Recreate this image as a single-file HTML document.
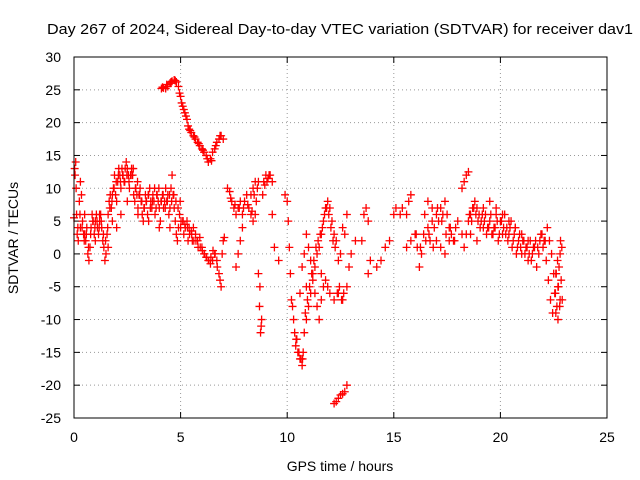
<!DOCTYPE html>
<html><head><meta charset="utf-8"><style>
html,body{margin:0;padding:0;background:#fff;}
svg{display:block;font-family:"Liberation Sans",sans-serif;}
</style></head><body>
<svg id="chart" width="640" height="480" viewBox="0 0 640 480">
<rect x="0" y="0" width="640" height="480" fill="#fff"/>
<text x="340" y="34" font-size="15" text-anchor="middle" textLength="586" lengthAdjust="spacingAndGlyphs">Day 267 of 2024, Sidereal Day-to-day VTEC variation (SDTVAR) for receiver dav1</text>
<text x="340" y="471" font-size="14" text-anchor="middle">GPS time / hours</text>
<text x="18" y="238" font-size="14" text-anchor="middle" transform="rotate(-90 18 238)">SDTVAR / TECUs</text>
<g id="grid"></g><g id="ticks"></g><g id="marks"></g>
<rect x="74" y="57" width="533" height="361" fill="none" stroke="#000" stroke-width="1"/>
</svg>
<script>
const xTicks=[0,5,10,15,20,25];
const yTicks=[30,25,20,15,10,5,0,-5,-10,-15,-20,-25];
const hours=[0,0.05,0.08,0.1,0.12,0.15,0.2,0.25,0.3,0.35,0.4,0.45,0.5,0.55,0.6,0.65,0.7,0.75,0.8,0.85,0.9,0.95,1.0,1.05,1.1,1.15,1.2,1.25,1.3,1.35,1.4,1.45,1.5,1.55,1.6,1.65,1.7,1.75,1.8,1.85,1.9,1.95,2.0,2.05,2.1,2.15,2.2,2.25,2.3,2.35,2.4,2.45,2.5,2.55,2.6,2.65,2.7,2.75,2.8,2.85,2.9,2.95,3.0,3.05,3.1,3.15,3.2,3.25,3.3,3.35,3.4,3.45,3.5,3.55,3.6,3.65,3.7,3.75,3.8,3.85,3.9,3.95,4.0,4.05,4.1,4.15,4.2,4.25,4.3,4.35,4.4,4.45,4.5,4.55,4.6,4.65,4.7,4.75,4.8,4.85,4.9,4.95,5.0,
0.3,0.5,1.0,1.2,1.6,1.8,2.0,2.2,2.5,3.0,3.5,4.0,4.5,
4.1,4.2,4.3,4.4,4.5,4.6,4.7,4.8,4.9,5.0,5.05,5.1,5.2,5.3,5.35,5.4,5.5,5.6,5.7,5.8,5.9,6.0,6.1,6.2,6.3,6.4,6.5,6.6,6.7,6.8,6.9,7.0,
5.1,5.2,5.3,5.4,5.5,5.6,5.7,5.8,5.9,6.0,6.1,6.2,6.3,6.4,6.5,6.6,6.7,6.8,6.85,6.9,6.95,7.0,7.05,5.15,5.35,5.55,
7.2,7.3,7.4,7.5,7.6,7.7,7.8,7.9,8.0,8.1,8.2,8.3,8.4,8.5,8.55,8.6,8.65,8.7,8.75,8.8,8.85,8.9,9.0,9.1,9.2,9.3,8.5,8.4,8.3,7.6,7.7,7.8,7.9,9.3,9.4,9.6,
9.9,10.0,10.05,10.1,10.15,10.2,10.3,10.35,10.4,10.45,10.5,10.6,10.7,10.75,10.8,10.9,11.0,11.1,11.2,11.3,11.4,11.5,11.6,11.7,11.8,11.9,12.0,12.1,12.2,12.3,12.4,12.5,12.6,12.7,12.8,10.6,10.7,10.8,10.9,11.0,11.1,11.2,11.4,11.5,11.6,11.7,11.8,11.9,12.0,12.2,12.4,12.6,12.8,11.6,11.3,10.9,
12.2,12.3,12.4,12.5,12.6,12.7,12.8,
12.9,13.0,13.2,13.5,13.6,13.7,13.8,13.8,13.9,14.2,14.4,14.6,14.8,15.0,15.1,15.3,15.4,15.6,15.7,15.8,15.6,15.8,16.0,16.1,16.2,16.3,16.4,16.5,16.6,16.7,16.8,16.9,17.0,17.1,17.2,17.3,17.4,17.5,17.6,17.7,17.8,17.9,18.0,18.2,18.3,18.4,16.6,16.8,17.0,17.2,17.4,17.6,
18.2,18.3,18.4,18.5,18.5,18.6,18.7,18.8,18.9,19.0,19.1,19.2,19.3,19.4,19.5,19.6,19.7,19.8,19.9,20.0,20.1,20.2,20.3,20.4,20.5,20.6,20.7,20.8,20.9,21.0,21.1,21.2,21.3,21.4,21.5,21.6,21.7,21.8,21.9,22.0,22.1,22.2,22.3,22.4,22.5,22.55,22.6,22.65,22.7,22.75,22.8,22.85,22.9,18.6,18.9,19.2,19.5,19.8,20.1,20.4,20.7,21.0,21.3,22.6,22.7,22.8,
0.03,0.18,0.28,0.38,0.48,0.58,0.68,0.78,0.88,0.98,1.08,1.18,1.28,1.38,1.48,1.58,1.68,1.78,1.88,1.98,2.08,2.18,2.28,2.38,2.48,2.58,2.68,2.78,2.88,2.98,3.08,3.18,3.28,3.38,3.48,3.58,3.68,3.78,3.88,3.98,4.08,4.18,4.28,4.38,4.48,4.58,4.68,4.78,4.88,4.98,
5.02,5.12,5.22,5.32,5.42,5.52,5.62,5.72,5.82,5.92,6.02,6.12,6.22,6.32,6.42,6.52,6.62,6.72,
4.15,4.35,4.55,4.75,4.95,5.15,5.25,5.45,5.65,5.85,6.05,6.25,6.45,6.65,6.85,
7.35,7.55,7.75,7.95,8.15,8.35,8.45,8.65,8.95,9.05,9.15,8.72,8.78,
10.25,10.42,10.55,10.65,10.72,10.85,10.95,11.05,11.15,11.25,11.35,11.45,11.55,11.65,11.75,11.85,11.95,12.05,12.15,12.25,12.35,12.45,12.55,12.65,
18.55,18.65,18.75,18.85,18.95,19.05,19.15,19.25,19.35,19.45,19.55,19.65,19.75,19.85,19.95,20.05,20.15,20.25,20.35,20.45,20.55,20.65,20.75,20.85,20.95,21.05,21.15,21.25,21.35,21.45,21.55,21.65,21.75,21.85,21.95,22.05,22.15,22.25,22.35,22.45,22.58,22.62,22.68,22.72,22.78,22.82,22.88,
16.05,16.25,16.45,16.65,16.85,17.05,17.25,17.45,17.65,17.85,18.05,18.15];
const sdtvar=[5.5,12,14,10,6,3,2,8,11,9,5,3,6,2,4,0,-1,1,4,6,5,3,5,6,4,3,5,6,4,2,1,-1,0,3,6,8,9,7,9,10,12,9,8,11,13,12,10,13,12,11,13,14,13,12,10,12,13,12,9,8,10,9,7,9,10,8,6,5,7,9,8,6,9,10,8,7,9,8,6,7,9,8,7,5,8,9,7,8,10,8,9,6,7,10,12,9,7,5,3,2,4,6,4,
4,3,2,6,1,5,4,6,8,6,5,4,4,
25.2,25.3,25.2,25.5,26,26.3,26.5,26.2,25.5,24,23,22.5,21.5,20.5,19.5,19,18.5,18,17.5,17,16.5,16,15.5,15,14,14.5,15.5,16,17,17.5,18,17.5,
5,4.5,5,4,3.5,4,3,2,2.5,1,0,-0.5,-1,-1.5,-1,0,-1,-3,-4,-5,0,2,2.5,3,2,2,
10,9.5,8,7,6,7,8,6,8,9,7,6,5,6,8,10,-3,-8,-12,-10,9,11,12,11.5,12,11,11,10,9,-2,0,2,4,6,1,-1,
9,8,5,1,-3,-7,-10,-12,-14,-13,-15,-16,-17,-15,-12,-10,-8,-6,-4,-2,0,1,3,5,7,8,7,5,3,2,-1,0,4,3,6,-6,-2,0,3,1,-1,-3,-8,-10,-7,-5,-4,-5,-6,-7,-6,-7,-5,-3,-6,-5,
-22.8,-22.5,-22,-21.5,-21.3,-21,-20,
-2,0,2,2,6,7,5,-3,-1,-2,-1,1,2,6,7,6,7,6,8,9,1,2,3,1,-2,0,3,2,4,2,5,4,2,5,7,6,8,6,4,3,2,4,5,3,1,3,8,7,6,1,0,2,
10,11,12,12.5,5,6,7,8,7,6,5,7,6,4,5,3,4,6,2,5,3,6,4,3,5,2,4,1,3,0,2,1,-1,2,0,1,-2,0,3,1,2,4,2,0,-3,-6,-9,-8,-5,-2,0,-4,-7,3,2,4,8,7,6,5,4,3,2,-3,-10,-7,
13,4,6,4,2,3,1,3,5,4,5,4,5,3,2,4,7,8,10,11,12,11,12,11,12,11,12,13,10,11,9,8,7,8,9,7,8,10,9,10,8,9,7,8,9,8,9,8,7,8,
5,5,4,4,3,3,2,2,1,1,0.5,0,-0.5,-1,-0.5,0.5,0,-2,
25.4,25.8,26.2,26.4,24.5,22,21,18.8,17.8,16.8,15.8,14.5,14.2,16.5,18,
8.5,7.5,7,7,7.5,6.5,9,11,10.5,11,12,-5,-11,
-8,-13,-15,-16,-16,-9,-7,-5,-3,-1,1,2,3,4,6,7,6,4,2,1,-6,-5,-7,-6,
6,5,7,6,5,4,6,5,3,4,6,3,4,5,3,5,4,3,2,4,1,3,0,2,1,2,0,1,0,-1,1,2,1,2,3,2,-1,-4,-7,-9,-6,-3,-1,-5,-8,
2,1,3,1,6,3,1,7,5,3,4,2];
const NS='http://www.w3.org/2000/svg';
const L=74,R=607,T=57,B=418;
function xs(v){return L+(v-0)/(25-0)*(R-L);}
function ys(v){return B-(v+25)/(55)*(B-T);}
const grid=document.getElementById('grid'),ticks=document.getElementById('ticks'),marks=document.getElementById('marks');
function mk(tag,attrs,parent){const e=document.createElementNS(NS,tag);for(const k in attrs)e.setAttribute(k,attrs[k]);parent.appendChild(e);return e;}
xTicks.forEach(t=>{const x=xs(t);
 if(t>0&&t<25){const g=mk('line',{x1:x,x2:x,y1:T,y2:B,stroke:'#999','stroke-dasharray':'1,3','stroke-width':1},grid);
 
 }
 mk('line',{x1:x,x2:x,y1:B,y2:B-6,stroke:'#000'},ticks);mk('line',{x1:x,x2:x,y1:T,y2:T+6,stroke:'#000'},ticks);
 const tx=mk('text',{x:x,y:B+24,'font-size':14,'text-anchor':'middle'},ticks);tx.textContent=t;
 
 });
yTicks.forEach(t=>{const y=ys(t);
 if(t>-25&&t<30){const g=mk('line',{x1:L,x2:R,y1:y,y2:y,stroke:'#999','stroke-dasharray':'1,3','stroke-width':1},grid);
 
 }
 mk('line',{x1:L,x2:L+6,y1:y,y2:y,stroke:'#000'},ticks);mk('line',{x1:R,x2:R-6,y1:y,y2:y,stroke:'#000'},ticks);
 const tx=mk('text',{x:L-13,y:y+5,'font-size':14,'text-anchor':'end'},ticks);tx.textContent=t;
 
 });
hours.forEach((h,i)=>{const x=xs(h),y=ys(sdtvar[i]);
 const p=mk('path',{d:`M${x-4},${y}H${x+4}M${x},${y-4}V${y+4}`,stroke:'#f00','stroke-width':1.3,fill:'none'},marks);
 
 });
</script>
</body></html>
